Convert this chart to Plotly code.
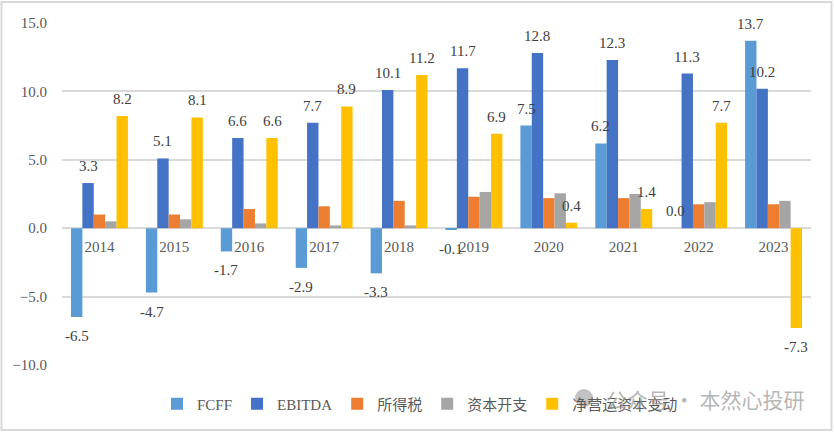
import plotly.graph_objects as go

years = ["2014", "2015", "2016", "2017", "2018", "2019", "2020", "2021", "2022", "2023"]
fcff = [-6.5, -4.7, -1.7, -2.9, -3.3, -0.1, 7.5, 6.2, 0.0, 13.7]
ebitda = [3.3, 5.1, 6.6, 7.7, 10.1, 11.7, 12.8, 12.3, 11.3, 10.2]
tax = [1.0, 1.0, 1.4, 1.6, 2.0, 2.3, 2.2, 2.2, 1.75, 1.75]
capex = [0.5, 0.65, 0.35, 0.2, 0.2, 2.65, 2.55, 2.5, 1.9, 2.0]
nwc = [8.2, 8.1, 6.6, 8.9, 11.2, 6.9, 0.4, 1.4, 7.7, -7.3]

series = [
    ("FCFF", fcff, "#5B9BD5", True),
    ("EBITDA", ebitda, "#4472C4", True),
    ("所得税", tax, "#ED7D31", False),
    ("资本开支", capex, "#A5A5A5", False),
    ("净营运资本变动", nwc, "#FFC000", True),
]

SERIF = "Liberation Serif"
LEG_FONT = "Liberation Serif, Noto Sans CJK SC"

L, R, T, B = 62, 23, 23, 67
W, H = 834, 432
pw = W - L - R
ph = H - T - B
BARGAP = 0.24
nser = len(series)
bw = pw / len(years) * (1 - BARGAP) / nser

fig = go.Figure()
for i, (name, vals, color, labeled) in enumerate(series):
    fig.add_trace(go.Bar(name=name, x=years, y=vals, marker_color=color,
                         marker_line_width=0))
    if labeled:
        for j, v in enumerate(vals):
            pos = v >= 0
            fig.add_annotation(
                x=j, y=v, xref="x", yref="y", text=f"{v:.1f}", showarrow=False,
                xshift=(i - (nser - 1) / 2) * bw, yshift=17 if pos else -19,
                xanchor="center", yanchor="middle",
                font=dict(family=SERIF, size=15, color="#404040"))

fig.update_layout(
    width=W, height=H,
    margin=dict(l=L, r=R, t=T, b=B),
    paper_bgcolor="white", plot_bgcolor="white",
    barmode="group", bargap=BARGAP, bargroupgap=0,
    font=dict(family=SERIF, size=14, color="#595959"),
    showlegend=True,
    legend=dict(orientation="h", x=(420 - L) / pw, xanchor="center",
                y=(365 - 404) / ph, yanchor="middle", bgcolor="rgba(0,0,0,0)",
                font=dict(family=LEG_FONT, size=15, color="#595959"),
                itemwidth=30, tracegroupgap=0),
)
fig.update_yaxes(range=[-10, 15], dtick=5, tickformat=".1f", showgrid=True,
                 gridcolor="#d9d9d9", gridwidth=1.5, zeroline=True,
                 zerolinecolor="#d9d9d9", zerolinewidth=1.5, showline=False,
                 tickfont=dict(family=SERIF, size=15, color="#595959"), ticks="",
                 ticklabelstandoff=14, fixedrange=True)
fig.update_xaxes(type="category", range=[-0.5, len(years) - 0.5],
                 anchor="free", position=0.4, showline=False,
                 showgrid=False, ticks="outside", ticklen=5,
                 tickcolor="rgba(0,0,0,0)", fixedrange=True,
                 tickfont=dict(family=SERIF, size=15, color="#595959"))

# outer border
fig.add_shape(type="rect", xref="paper", yref="paper",
              x0=(1.5 - L) / pw, x1=(831.5 - L) / pw,
              y0=(365 - 430) / ph, y1=(365 - 2) / ph,
              line=dict(color="#d9d9d9", width=2), fillcolor="rgba(0,0,0,0)",
              layer="below")

# watermark
fig.add_shape(type="circle", xref="paper", yref="paper",
              x0=(575 - L) / pw, x1=(593 - L) / pw,
              y0=(365 - 407) / ph, y1=(365 - 389) / ph,
              line=dict(width=0), fillcolor="rgba(120,120,120,0.45)", layer="above")
fig.add_annotation(xref="paper", yref="paper", x=(705 - L) / pw, y=(365 - 399) / ph,
                   xanchor="center", yanchor="middle",
                   text="公众号 · 本然心投研", showarrow=False,
                   font=dict(family="Noto Sans CJK SC", size=21, color="rgba(150,150,150,0.7)"))

fig.write_html("out.html", config={"displayModeBar": False},
               post_script="document.body.style.margin='0';")
